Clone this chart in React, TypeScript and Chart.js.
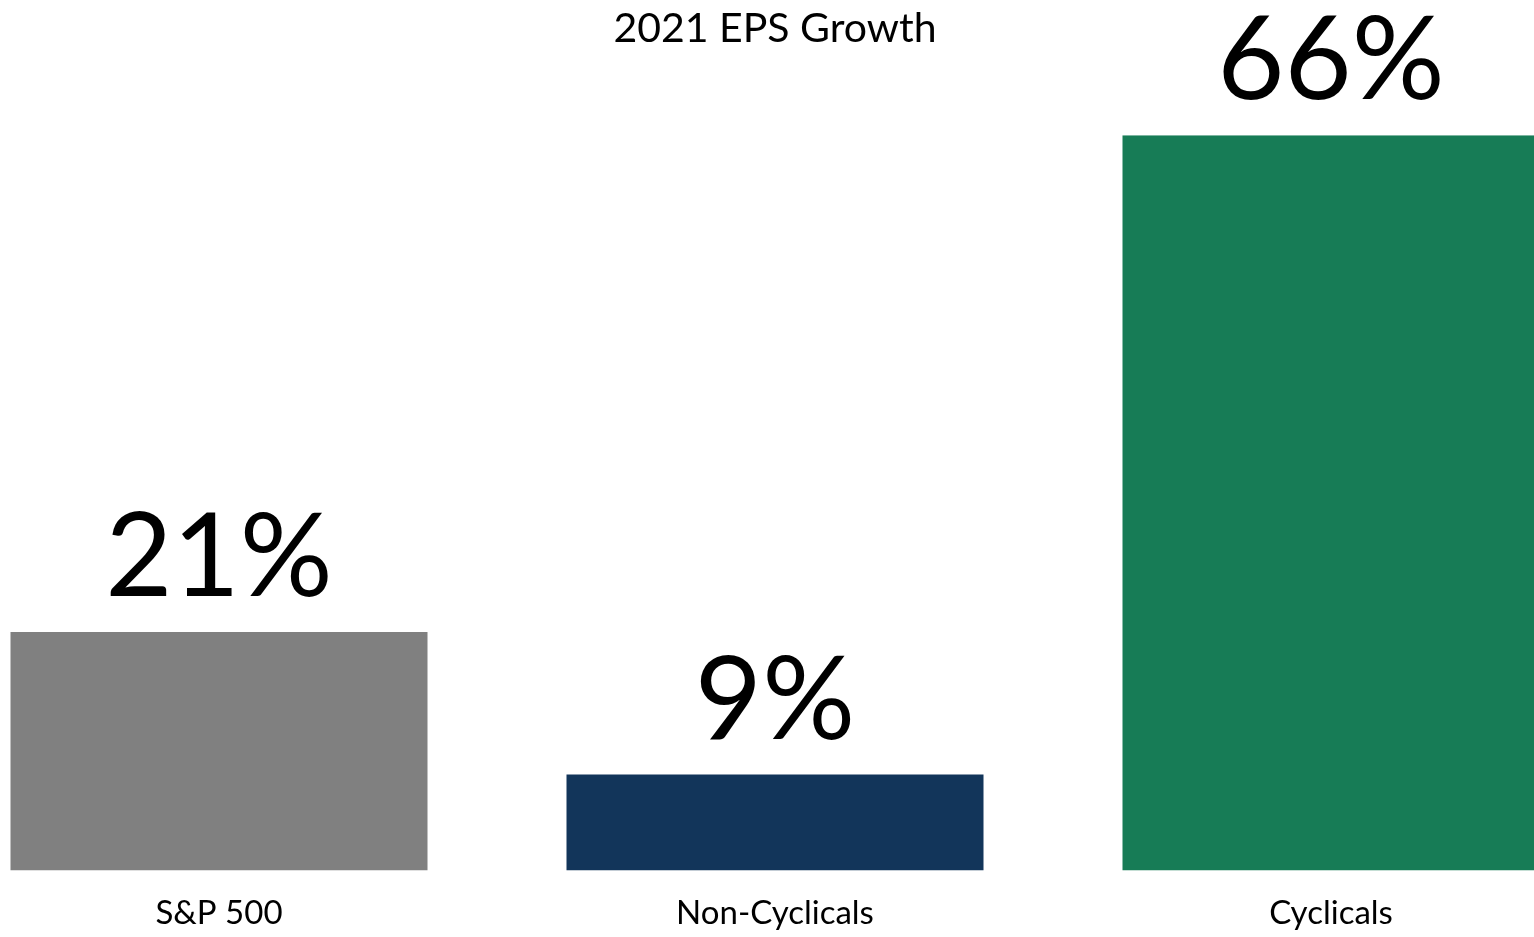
import React, { useEffect, useRef } from "react";
import { Chart, registerables } from "chart.js";

Chart.register(...registerables);

const categories = ["S&P 500", "Non-Cyclicals", "Cyclicals"];
const growthValues = [21.4, 8.6, 66];
const barColors = ["#808080", "#12355A", "#177C56"];
const titleText = "2021 EPS Growth";

const FONT = "Lato, 'Open Sans', sans-serif";

const valueLabelPlugin = {
  id: "valueLabels",
  afterDatasetsDraw(chart: any) {
    const { ctx } = chart;
    const meta = chart.getDatasetMeta(0);
    ctx.save();
    ctx.fillStyle = "#000000";
    ctx.font = `116px ${FONT}`;
    ctx.textAlign = "center";
    ctx.textBaseline = "alphabetic";
    meta.data.forEach((bar: any, i: number) => {
      const v = growthValues[i];
      ctx.fillText(`${Math.round(v)}%`, bar.x, bar.y - 36);
    });
    ctx.restore();
  },
};

export default function App() {
  const canvasRef = useRef<HTMLCanvasElement | null>(null);

  useEffect(() => {
    if (!canvasRef.current) return;
    const chart = new Chart(canvasRef.current, {
      type: "bar",
      data: {
        labels: categories,
        datasets: [
          {
            data: growthValues,
            backgroundColor: barColors,
            borderWidth: 0,
            barPercentage: 0.75,
            categoryPercentage: 1,
          },
        ],
      },
      options: {
        animation: false,
        responsive: true,
        maintainAspectRatio: false,
        layout: { padding: { top: 0, bottom: -19, left: 0, right: 0 } },
        plugins: {
          legend: { display: false },
          tooltip: { enabled: false },
          title: {
            display: true,
            text: titleText,
            color: "#000000",
            font: { family: FONT, size: 41, weight: "normal" },
            padding: { top: 4, bottom: 82 },
          },
        },
        scales: {
          x: {
            offset: true,
            grid: { display: false, drawTicks: false },
            border: { display: false },
            ticks: {
              color: "#000000",
              padding: 23,
              font: { family: FONT, size: 33 },
            },
          },
          y: {
            display: false,
            min: 0,
            max: 66,
          },
        },
      },
      plugins: [valueLabelPlugin],
    });
    return () => chart.destroy();
  }, []);

  return (
    <div
      style={{
        position: "absolute",
        left: 0,
        top: 0,
        width: 1534,
        height: 937,
        overflow: "hidden",
        background: "#ffffff",
      }}
    >
      <div style={{ position: "absolute", left: -59, top: 0, width: 1668, height: 937 }}>
        <canvas ref={canvasRef} />
      </div>
    </div>
  );
}
